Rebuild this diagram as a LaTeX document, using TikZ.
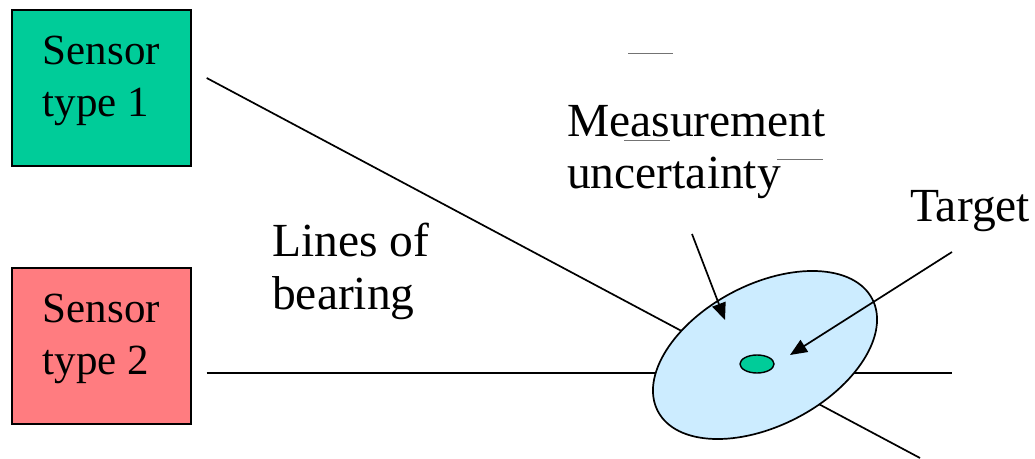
\documentclass[tikz,border=0pt]{standalone}
\usepackage{fontspec}
\setmainfont{Liberation Serif}
\usetikzlibrary{shapes.geometric,arrows.meta}
\definecolor{sensorA}{HTML}{00CC99}
\definecolor{sensorB}{HTML}{FF7C80}
\definecolor{uncfill}{HTML}{CCECFF}
\begin{document}
\begin{tikzpicture}[x=1pt, y=1pt,
  sensorbox/.style={draw, line width=1.4pt, minimum width=179pt, minimum height=156pt,
    align=left, text depth=23pt, font=\fontsize{43}{52}\selectfont},
  lbl/.style={anchor=base west, align=left, inner sep=0pt, font=\fontsize{47.5}{52}\selectfont},
  bearing/.style={line width=1.7pt},
  pointer/.style={line width=1.7pt, -{Triangle[length=17pt, width=14pt]}}]
  \useasboundingbox (0,0) rectangle (1035,458);
  \foreach \name/\num/\col/\y in {s1/1/sensorA/370, s2/2/sensorB/112} {
    \node[sensorbox, fill=\col] (\name) at (101.5,\y) {Sensor\\type \num};
  }
  % lines of bearing
  \coordinate (end1) at (920,0);
  \coordinate (end2) at (952,85);
  \draw[bearing] ([xshift=15pt, yshift=10pt]s1.east) -- (end1);
  \draw[bearing] ([xshift=15pt, yshift=-27pt]s2.east) -- (end2);
  % uncertainty region and target
  \node[ellipse, draw, line width=1.7pt, fill=uncfill, minimum width=242pt,
    minimum height=141pt, inner sep=0pt, rotate=27.7] (unc) at (765,103) {};
  \node[ellipse, draw, line width=1.4pt, fill=sensorA, minimum width=34pt,
    minimum height=18pt, inner sep=0pt] (tgt) at (757,94) {};
  % labels (base = last line)
  \node[lbl] (meas) at (567,269) {Measurement\\uncertainty};
  \node[lbl] (lob) at (272,149) {Lines of\\bearing};
  \node[lbl] (tlbl) at (910,236) {Target};
  \coordinate (m0) at (692,224);
  \coordinate (m1) at (725,138);
  \coordinate (t0) at (952,206);
  \coordinate (t1) at (790,103);
  \draw[pointer] (m0) -- (m1);
  \draw[pointer] (t0) -- (t1);
  % stray marks
  \draw[black!55, line width=1pt] (628,404) -- (673,404);
  \draw[black!55, line width=1pt] (624,317) -- (670,317);
  \draw[black!55, line width=1pt] (777,298) -- (823,298);
\end{tikzpicture}
\end{document}
